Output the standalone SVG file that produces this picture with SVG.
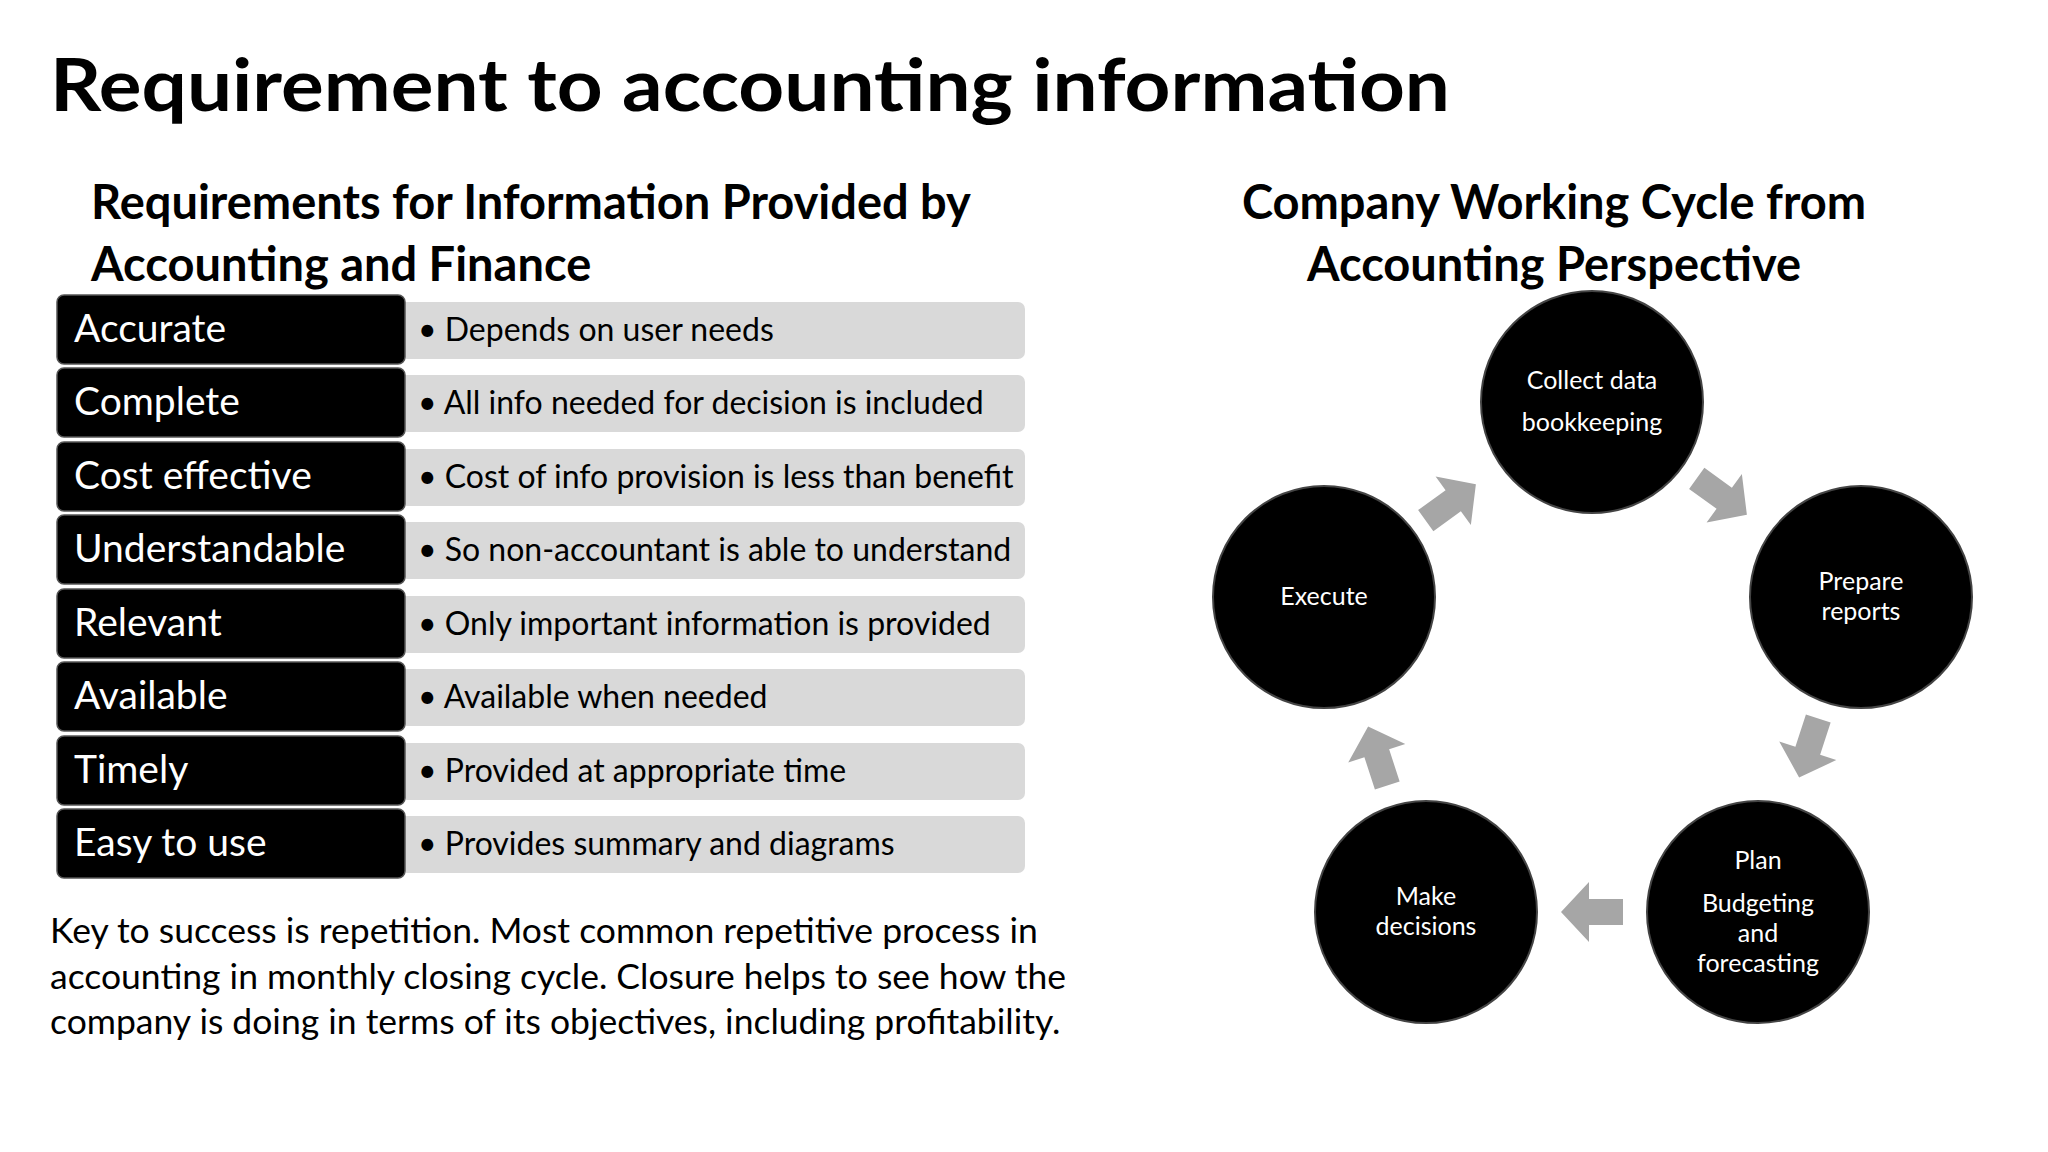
<svg xmlns="http://www.w3.org/2000/svg" width="2048" height="1152" viewBox="0 0 2048 1152">
<style>
text{font-family:Lato,"Open Sans","Liberation Sans",sans-serif}
.t{font-size:72px;font-weight:bold;fill:#000}
.h{font-size:47px;font-weight:bold;fill:#000}
.lb{fill:#000;stroke:#555;stroke-width:1.5}
.gb{fill:#d9d9d9}
.lt{font-size:39px;fill:#fff}
.bt{font-size:32px;fill:#000}
.p{font-size:35.5px;fill:#000}
.c{fill:#000;stroke:#444;stroke-width:2}
.ct{font-size:25px;fill:#fff;text-anchor:middle}
.ar{fill:#a6a6a6}
</style>
<defs><path id="arw" class="ar" d="M-30,-13 L4,-13 L4,-30 L32,0 L4,30 L4,13 L-30,13 Z"/></defs>
<rect width="2048" height="1152" fill="#fff"/>
<text class="t" x="50" y="111" textLength="1400" lengthAdjust="spacingAndGlyphs">Requirement to accounting information</text>
<text class="h" x="91" y="219">Requirements for Information Provided by</text>
<text class="h" x="91" y="281">Accounting and Finance</text>
<text class="h" x="1554" y="219" text-anchor="middle">Company Working Cycle from</text>
<text class="h" x="1554" y="281" text-anchor="middle">Accounting Perspective</text>
<g id="rows">
<g id="r1"><rect class="gb" x="400" y="302" width="625" height="57" rx="7"/><rect class="lb" x="57" y="295" width="348" height="69" rx="7"/><text class="lt" x="74" y="342">Accurate</text><text class="bt" x="418" y="341">•  Depends on user needs</text></g>
<g id="r2"><rect class="gb" x="400" y="375" width="625" height="57" rx="7"/><rect class="lb" x="57" y="368" width="348" height="69" rx="7"/><text class="lt" x="74" y="415">Complete</text><text class="bt" x="418" y="414">•  All info needed for decision is included</text></g>
<g id="r3"><rect class="gb" x="400" y="449" width="625" height="57" rx="7"/><rect class="lb" x="57" y="442" width="348" height="69" rx="7"/><text class="lt" x="74" y="489">Cost effective</text><text class="bt" x="418" y="488">•  Cost of info provision is less than benefit</text></g>
<g id="r4"><rect class="gb" x="400" y="522" width="625" height="57" rx="7"/><rect class="lb" x="57" y="515" width="348" height="69" rx="7"/><text class="lt" x="74" y="562">Understandable</text><text class="bt" x="418" y="561">•  So non-accountant is able to understand</text></g>
<g id="r5"><rect class="gb" x="400" y="596" width="625" height="57" rx="7"/><rect class="lb" x="57" y="589" width="348" height="69" rx="7"/><text class="lt" x="74" y="636">Relevant</text><text class="bt" x="418" y="635">•  Only important information is provided</text></g>
<g id="r6"><rect class="gb" x="400" y="669" width="625" height="57" rx="7"/><rect class="lb" x="57" y="662" width="348" height="69" rx="7"/><text class="lt" x="74" y="709">Available</text><text class="bt" x="418" y="708">•  Available when needed</text></g>
<g id="r7"><rect class="gb" x="400" y="743" width="625" height="57" rx="7"/><rect class="lb" x="57" y="736" width="348" height="69" rx="7"/><text class="lt" x="74" y="783">Timely</text><text class="bt" x="418" y="782">•  Provided at appropriate time</text></g>
<g id="r8"><rect class="gb" x="400" y="816" width="625" height="57" rx="7"/><rect class="lb" x="57" y="809" width="348" height="69" rx="7"/><text class="lt" x="74" y="856">Easy to use</text><text class="bt" x="418" y="855">•  Provides summary and diagrams</text></g>
</g>
<text class="p" x="50" y="943">Key to success is repetition. Most common repetitive process in</text>
<text class="p" x="50" y="989">accounting in monthly closing cycle. Closure helps to see how the</text>
<text class="p" x="50" y="1034">company is doing in terms of its objectives, including profitability.</text>
<g id="connectors">
<use href="#arw" transform="translate(1450,503) rotate(-36)"/>
<use href="#arw" transform="translate(1721,496) rotate(36)"/>
<use href="#arw" transform="translate(1809,747) rotate(108)"/>
<use href="#arw" transform="translate(1593,912) rotate(180)"/>
<use href="#arw" transform="translate(1378,757) rotate(-108)"/>
</g>
<g id="collect"><circle class="c" cx="1592" cy="402" r="111"/><text class="ct" x="1592" y="389">Collect data</text><text class="ct" x="1592" y="431">bookkeeping</text></g>
<g id="prepare"><circle class="c" cx="1861" cy="597" r="111"/><text class="ct" x="1861" y="590">Prepare</text><text class="ct" x="1861" y="620">reports</text></g>
<g id="plan"><circle class="c" cx="1758" cy="912" r="111"/><text class="ct" x="1758" y="869">Plan</text><text class="ct" x="1758" y="912">Budgeting</text><text class="ct" x="1758" y="942">and</text><text class="ct" x="1758" y="972">forecasting</text></g>
<g id="make"><circle class="c" cx="1426" cy="912" r="111"/><text class="ct" x="1426" y="905">Make</text><text class="ct" x="1426" y="935">decisions</text></g>
<g id="execute"><circle class="c" cx="1324" cy="597" r="111"/><text class="ct" x="1324" y="605">Execute</text></g>
</svg>
